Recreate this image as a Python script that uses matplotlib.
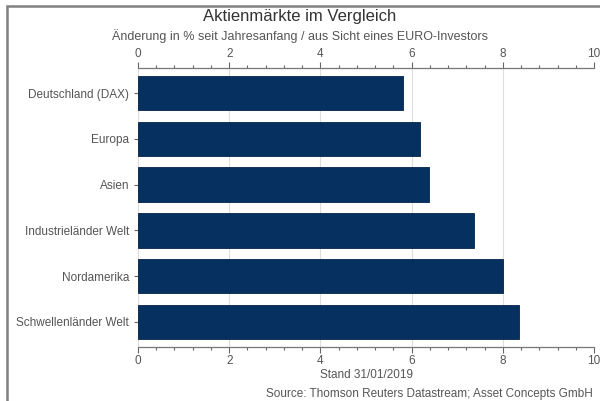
import matplotlib
matplotlib.use('Agg')
import matplotlib.pyplot as plt
from matplotlib.ticker import MultipleLocator
from matplotlib.patches import Rectangle

plt.rcParams['font.family'] = ['Liberation Sans', 'DejaVu Sans']

# Daten
maerkte = ["Deutschland (DAX)", "Europa", "Asien", "Industrieländer Welt",
           "Nordamerika", "Schwellenländer Welt"]
aenderung = [5.82, 6.18, 6.39, 7.36, 8.01, 8.35]

titel = "Aktienmärkte im Vergleich"
untertitel = "Änderung in % seit Jahresanfang / aus Sicht eines EURO-Investors"
stand = "Stand 31/01/2019"
quelle = "Source: Thomson Reuters Datastream; Asset Concepts GmbH"

text_farbe = '#555555'
balken_farbe = '#06305f'

fig = plt.figure(figsize=(6.0, 4.01), dpi=100)
ax = fig.add_axes([138 / 600, 1 - 347 / 401, 456 / 600, 279 / 401])

ax.barh(range(len(maerkte)), aenderung, height=0.75, color=balken_farbe,
        edgecolor='#052346', linewidth=0.6, zorder=3)

ax.set_xlim(0, 10)
ax.set_ylim(len(maerkte) - 0.45, -0.55)
ax.set_yticks(range(len(maerkte)))
ax.set_yticklabels(maerkte)

ax.xaxis.set_major_locator(MultipleLocator(2))
ax.xaxis.set_minor_locator(MultipleLocator(0.4))
ax.tick_params(axis='x', which='both', top=True, labeltop=True,
               direction='out', colors='#666666', labelcolor=text_farbe,
               labelsize=8.5, pad=2)
ax.tick_params(axis='x', which='major', length=4, width=0.8)
ax.tick_params(axis='x', which='minor', length=2, width=0.8)
ax.tick_params(axis='y', length=3, width=0.8, colors='#666666',
               labelcolor=text_farbe, labelsize=8.5)

for s in ['left', 'right']:
    ax.spines[s].set_visible(False)
for s in ['top', 'bottom']:
    ax.spines[s].set_color('#777777')
    ax.spines[s].set_linewidth(0.9)

ax.grid(axis='x', color='#dddddd', linewidth=0.8, zorder=0)
ax.set_axisbelow(True)

ax.set_xlabel(stand, color=text_farbe, fontsize=8.5, labelpad=1)

fig.text(0.5, 1 - 17 / 401, titel, ha='center', va='center',
         fontsize=12, color='#333333')
fig.text(0.5, 1 - 36 / 401, untertitel, ha='center', va='center',
         fontsize=9, color=text_farbe)
fig.text(593 / 600, 1 - 394 / 401, quelle, ha='right', va='center',
         fontsize=8.5, color=text_farbe)

# Rahmen um die Grafik
fig.patches.append(Rectangle((7 / 600, -0.1), 1.2, 1 - 6 / 401 + 0.1,
                             transform=fig.transFigure, fill=False,
                             edgecolor='#808080', linewidth=1.8))

fig.savefig('out.png', dpi=100)
plt.close(fig)
